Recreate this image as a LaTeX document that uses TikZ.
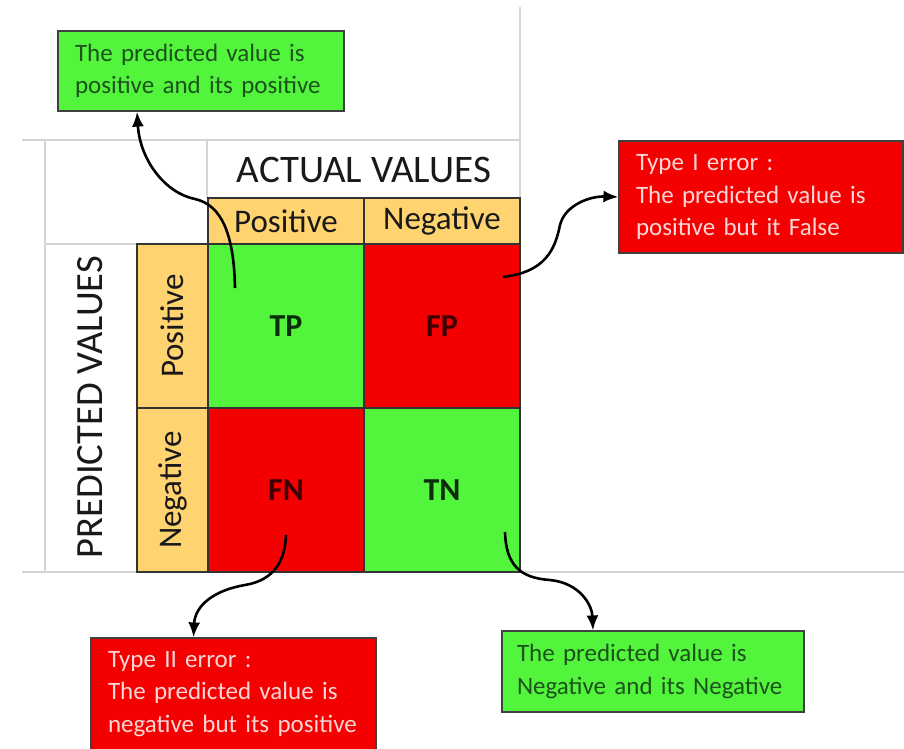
\documentclass[tikz,border=0pt]{standalone}
\usepackage{fontspec}
\setmainfont{Carlito}
\usetikzlibrary{positioning, arrows.meta}

\definecolor{vert}{RGB}{82,244,60}
\definecolor{rouge}{RGB}{244,0,0}
\definecolor{entete}{RGB}{255,212,112}
\definecolor{grille}{RGB}{214,214,214}
\definecolor{textvert}{RGB}{28,82,28}
\definecolor{textrose}{RGB}{250,214,214}
\definecolor{tvert}{RGB}{10,45,10}
\definecolor{trouge}{RGB}{60,0,0}

\begin{document}
\begin{tikzpicture}[x=1pt,y=-1pt,
  cell/.style={draw=black!80, line width=1.2pt, outer sep=0pt, inner sep=0pt,
    minimum width=156pt, minimum height=164pt, font=\fontsize{32}{34}\selectfont\bfseries},
  colhead/.style={draw=black!80, line width=1.2pt, outer sep=0pt, inner sep=0pt, fill=entete,
    minimum width=156pt, minimum height=46pt, font=\fontsize{33}{35}\selectfont, text=black!90},
  rowhead/.style={draw=black!80, line width=1.2pt, outer sep=0pt, inner sep=0pt, fill=entete,
    minimum width=71pt, minimum height=164pt, font=\fontsize{33}{35}\selectfont, text=black!90},
  boite/.style={draw=black!75, line width=1.2pt, inner xsep=17pt, inner ysep=0pt, align=left,
    font=\fontsize{25}{32.5}\selectfont},
  fleche/.style={->,>={Latex[length=15pt,width=12pt]}, line width=2.6pt}]
\useasboundingbox (0,0) rectangle (904,748);
\fill[white] (0,0) rectangle (904,748);

\draw[grille, line width=1.2pt] (22,140) -- (520,140) (520,7) -- (520,198);%le quadrillage
\draw[grille, line width=1.2pt] (45,140) -- (45,572) (45,244) -- (137,244) (207,140) -- (207,198);
\draw[grille, line width=1.2pt] (22,572) -- (904,572);

\node[cell, fill=vert, text=tvert] (tp) at (286,326) {TP};%les cases
\node[cell, fill=rouge, text=trouge, right=0pt of tp] (fp) {FP};
\node[cell, fill=rouge, text=trouge, below=0pt of tp] (fn) {FN};
\node[cell, fill=vert, text=tvert, right=0pt of fn] (tn) {TN};

\node[colhead, above=0pt of tp] (cpos) {Positive};
\node[colhead, above=0pt of fp] (cneg) {Negative};
\node[rowhead, left=0pt of tp] (rpos) {\rotatebox{90}{Positive}};
\node[rowhead, left=0pt of fn] (rneg) {\rotatebox{90}{Negative}};

\node[font=\fontsize{39}{41}\selectfont, text=black!90] (actv) at (364,170) {ACTUAL VALUES};
\node[rotate=90, font=\fontsize{38.5}{40}\selectfont, text=black!90] (predv) at (90,407) {PREDICTED VALUES};

\node[boite, fill=vert, text=textvert, text width=252pt, minimum height=80pt] (tl) at (201,71)
  {The predicted value is\\positive and its positive};
\node[boite, fill=rouge, text=textrose, text width=250pt, minimum height=112pt] (t1) at (761,197)
  {Type I error :\\The predicted value is\\positive but it False};
\node[boite, fill=rouge, text=textrose, text width=251pt, minimum height=112pt] (t2) at (233.5,694)
  {Type II error :\\The predicted value is\\negative but its positive};
\node[boite, fill=vert, text=textvert, inner xsep=15pt, text width=272pt, minimum height=81pt] (t4) at (653,671.5)
  {The predicted value is\\Negative and its Negative};

\coordinate (dtp) at (235,288);
\coordinate (dfp) at (503,277);
\coordinate (dfn) at (286,535);
\coordinate (dtn) at (505,532);

\draw[fleche] (dtp) .. controls (234,235) and (222,205) .. (195,199)
  .. controls (165,193) and (140,160) .. ([xshift=-64pt]tl.south);%les fleches
\draw[fleche] (dfp) .. controls (545,272) and (555,250) .. (560,225)
  .. controls (565,205) and (590,196) .. (t1.west);
\draw[fleche] (dfn) .. controls (285,560) and (275,580) .. (245,585)
  .. controls (215,590) and (195,605) .. ([xshift=-40pt]t2.north);
\draw[fleche] (dtn) .. controls (506,565) and (520,578) .. (550,580)
  .. controls (580,583) and (592,605) .. ([xshift=-60pt]t4.north);
\end{tikzpicture}
\end{document}
